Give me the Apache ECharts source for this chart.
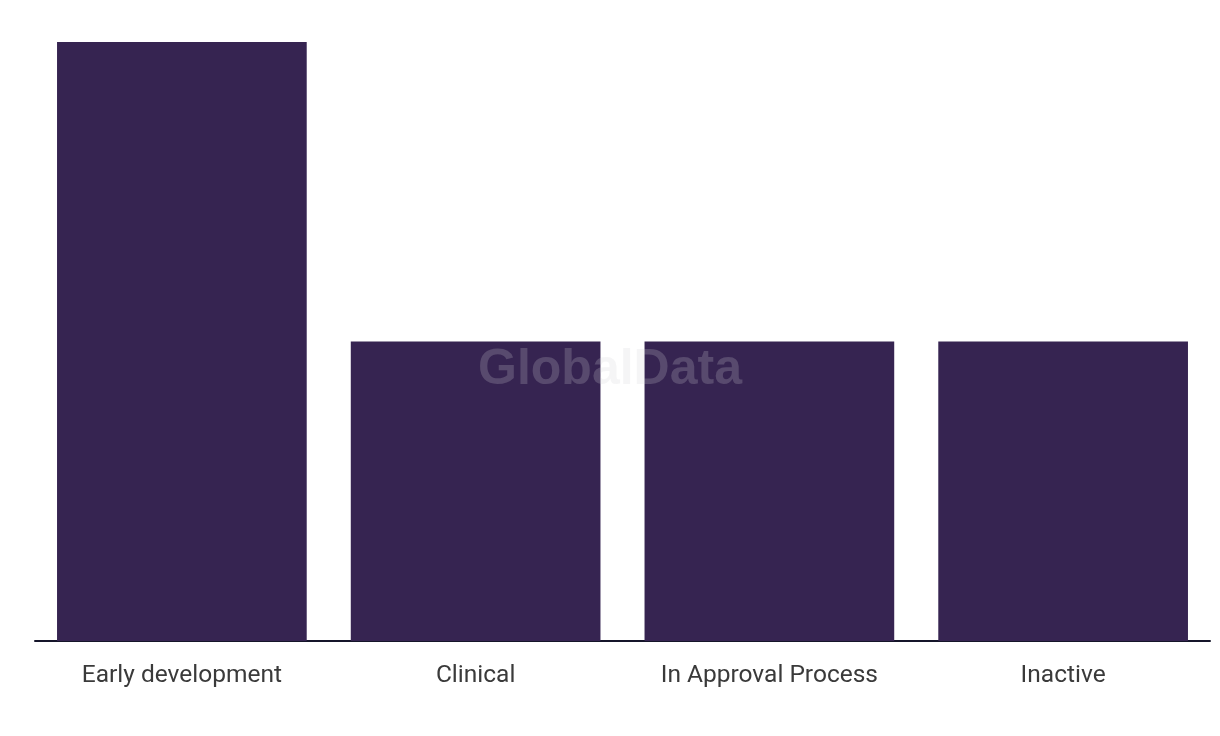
<!DOCTYPE html>
<html><head><meta charset="utf-8">
<script src="https://cdn.jsdelivr.net/npm/echarts@6/dist/echarts.min.js"></script>
<style>html,body{margin:0;padding:0;background:#fff}#c{width:1220px;height:736px}</style>
</head><body><div id="c"></div>
<script>
const categories = ['Early development', 'Clinical', 'In Approval Process', 'Inactive'];
const values = [2, 1, 1, 1];

const chart = echarts.init(document.getElementById('c'));
chart.setOption({
  animation: false,
  grid: { left: 35, right: 10, top: 42, bottom: 95, containLabel: false },
  xAxis: {
    type: 'category', data: categories,
    axisLine: { lineStyle: { color: '#15152a', width: 2 } },
    axisTick: { show: false },
    axisLabel: { color: '#3a3a3a', fontSize: 24.5, fontFamily: 'Roboto, sans-serif', margin: 22 }
  },
  yAxis: { type: 'value', min: 0, max: 2, show: false, splitLine: { show: false } },
  series: [{
    type: 'bar', data: values, barWidth: '85%',
    itemStyle: { color: '#362451' }
  }],
  graphic: [{
    type: 'text', left: 'center', top: 345, z: 100,
    style: { text: 'GlobalData', fill: 'rgba(208,208,215,0.22)', font: 'bold 50px "Liberation Sans", Arial, sans-serif' }
  }]
});
</script></body></html>
